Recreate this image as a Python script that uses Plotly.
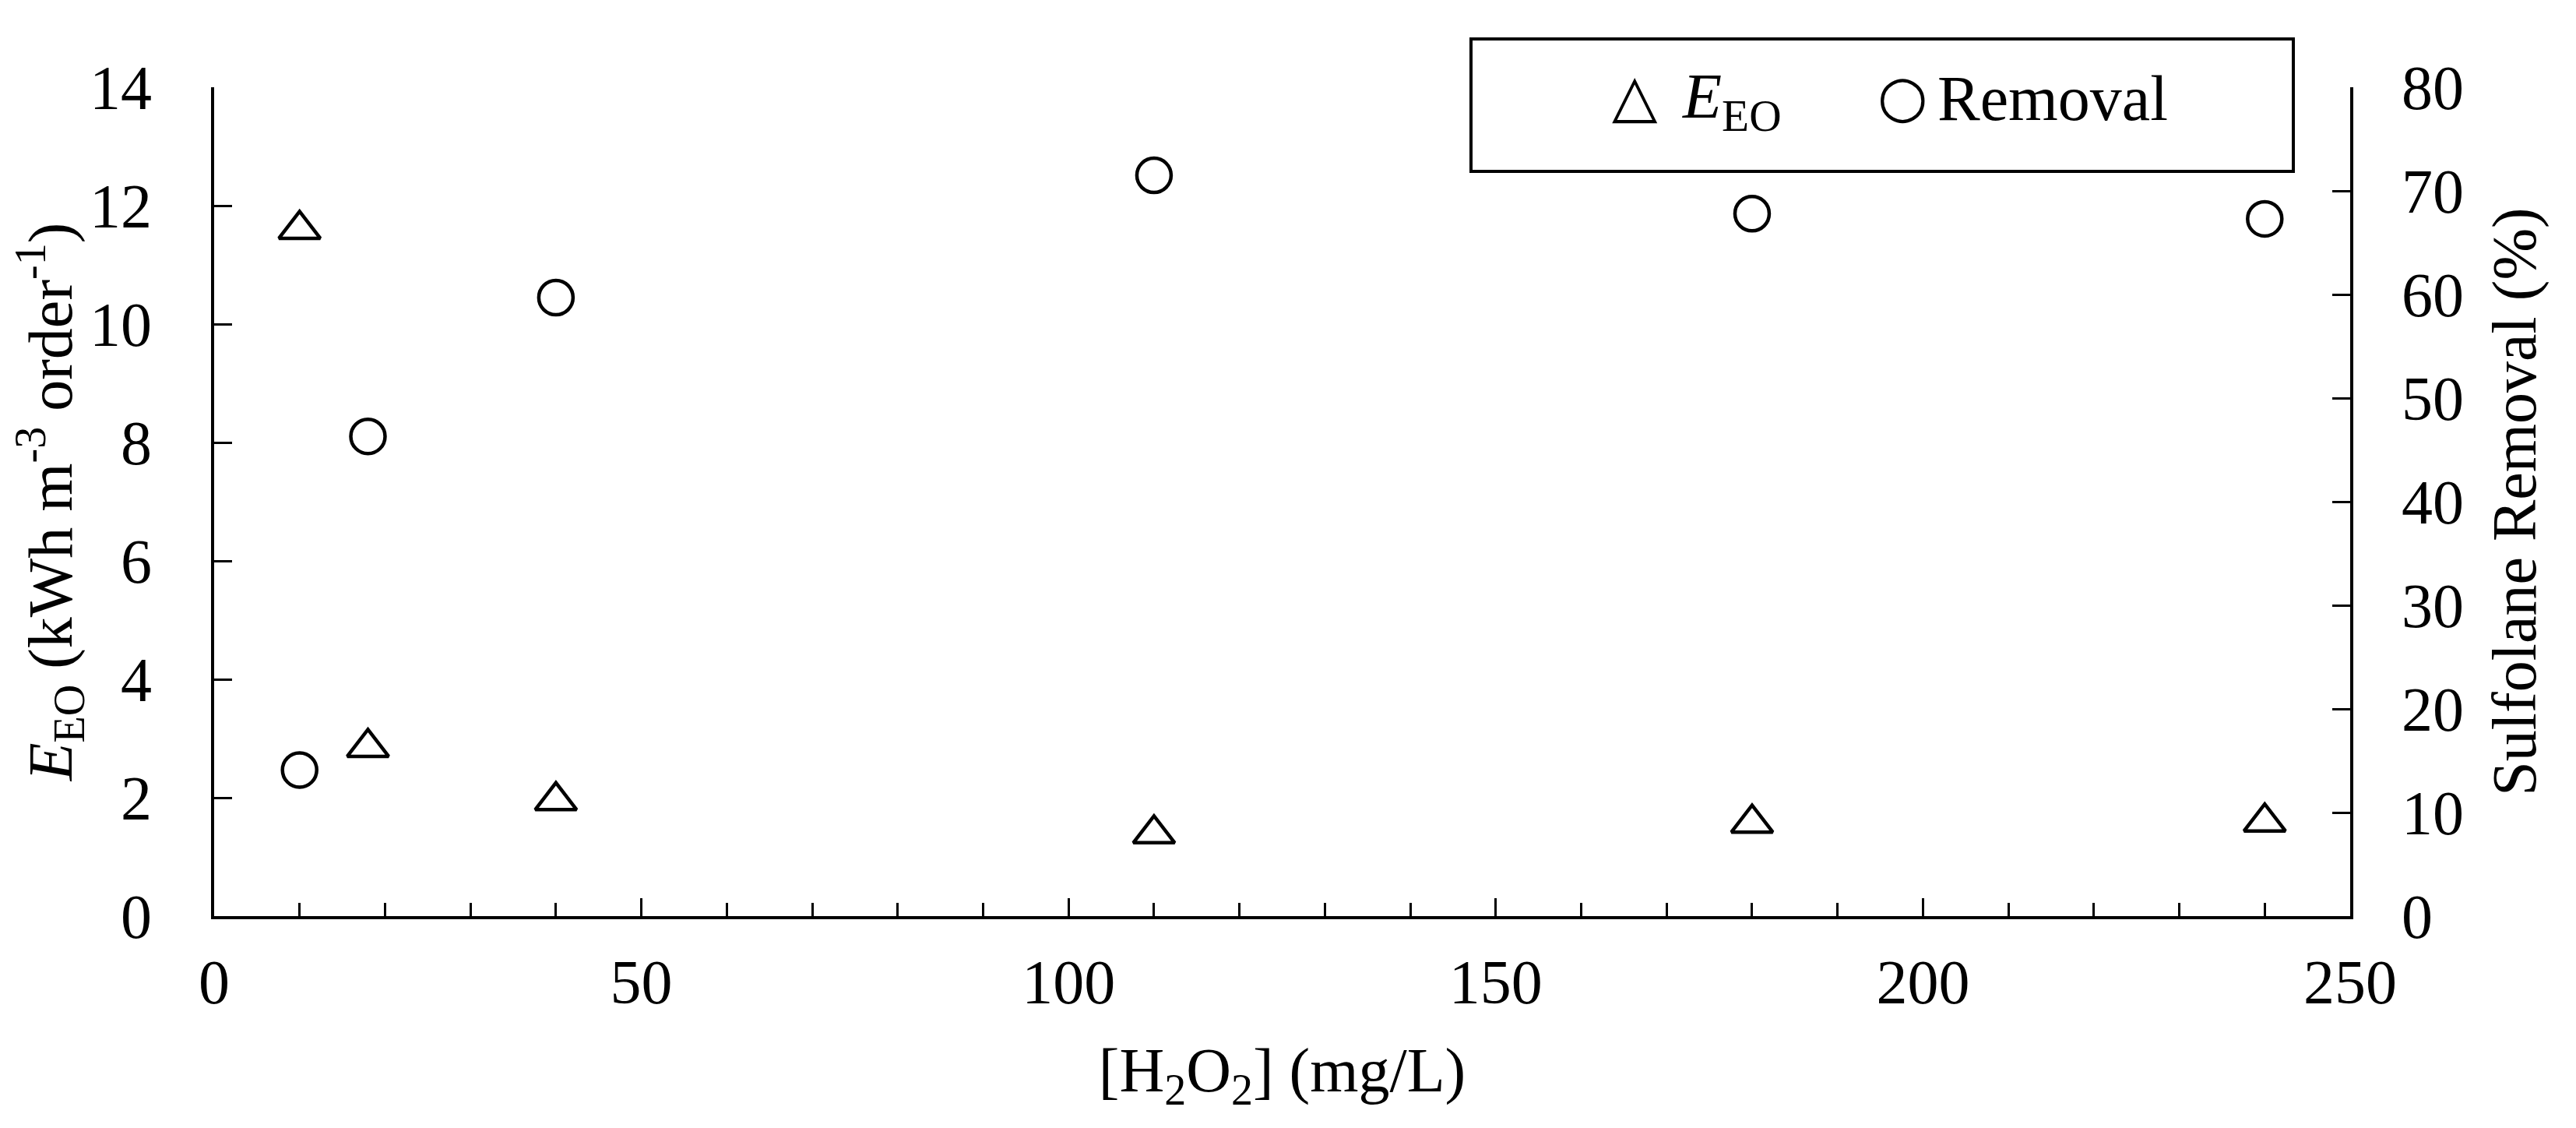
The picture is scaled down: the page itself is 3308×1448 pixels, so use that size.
import plotly.graph_objects as go

# H2O2 dose (mg/L)
h2o2 = [10, 18, 40, 110, 180, 240]
# electrical energy per order (kWh m-3 order-1)
eeo = [11.6, 2.85, 1.95, 1.39, 1.57, 1.59]
# sulfolane removal (%)
removal = [14.1, 46.3, 59.7, 71.5, 67.8, 67.3]

W, H = 3308, 1448
L, R, T, B = 267, 3010, 104, 1168   # plot area in pixels
FONT = "Liberation Serif, Times New Roman, serif"


def px(x):
    return (x - L) / (R - L)


def py(y):
    return (B - y) / (B - T)


fig = go.Figure()
fig.add_trace(go.Scatter(
    x=h2o2, y=eeo, mode="markers", name="EEO",
    marker=dict(symbol="triangle-up-open", size=46, color="black",
                line=dict(width=4.5, color="black")),
    showlegend=False,
))
fig.add_trace(go.Scatter(
    x=h2o2, y=removal, mode="markers", name="Removal", yaxis="y2",
    marker=dict(symbol="circle-open", size=44, color="black",
                line=dict(width=4.5, color="black")),
    showlegend=False,
))

axis_common = dict(
    showline=True, linecolor="black", linewidth=4,
    ticks="inside", ticklen=23, tickwidth=3, tickcolor="black",
    showgrid=False, zeroline=False,
    tickfont=dict(family=FONT, size=80, color="black"),
)

fig.update_layout(
    width=W, height=H,
    margin=dict(l=L, r=W - R, t=T, b=H - B),
    paper_bgcolor="white", plot_bgcolor="white",
    font=dict(family=FONT, size=80, color="black"),
    xaxis=dict(
        range=[0, 250], dtick=50, ticklabelstandoff=12, **axis_common,
        minor=dict(dtick=10, ticks="inside", ticklen=17, tickwidth=3, tickcolor="black"),
        title=dict(text="[H<sub>2</sub>O<sub>2</sub>] (mg/L)",
                   font=dict(family=FONT, size=80, color="black"), standoff=42),
    ),
    yaxis=dict(
        range=[0, 14], dtick=2, ticklabelstandoff=60, **axis_common,
        title=dict(text="<i>E</i><sub>EO</sub> (kWh m<sup>-3</sup> order<sup>-1</sup>)",
                   font=dict(family=FONT, size=80, color="black"), standoff=12),
    ),
    yaxis2=dict(
        range=[0, 80], dtick=10, overlaying="y", side="right", ticklabelstandoff=46,
        **axis_common,
        title=dict(text="Sulfolane Removal (%)",
                   font=dict(family=FONT, size=80, color="black"), standoff=38),
    ),
)

# legend box drawn by hand so the symbols can be as large as in the original
fig.add_shape(type="rect", xref="paper", yref="paper",
              x0=px(1881), x1=px(2937), y0=py(212), y1=py(42),
              line=dict(color="black", width=4), fillcolor="white")
fig.add_annotation(xref="paper", yref="paper", x=px(2091), y=py(114), text="△",
                   xanchor="center", yanchor="middle", showarrow=False,
                   font=dict(family="DejaVu Sans", size=76, color="black"))
fig.add_annotation(xref="paper", yref="paper", x=px(2150), y=py(121), xanchor="left",
                   yanchor="middle", text="<i>E</i><sub>EO</sub>", showarrow=False,
                   font=dict(family=FONT, size=82, color="black"))
fig.add_annotation(xref="paper", yref="paper", x=px(2435), y=py(115), text="○",
                   xanchor="center", yanchor="middle", showarrow=False,
                   font=dict(family="DejaVu Sans", size=74, color="black"))
fig.add_annotation(xref="paper", yref="paper", x=px(2478), y=py(118), xanchor="left",
                   yanchor="middle", text="Removal", showarrow=False,
                   font=dict(family=FONT, size=82, color="black"))

fig.write_html("out.html")
